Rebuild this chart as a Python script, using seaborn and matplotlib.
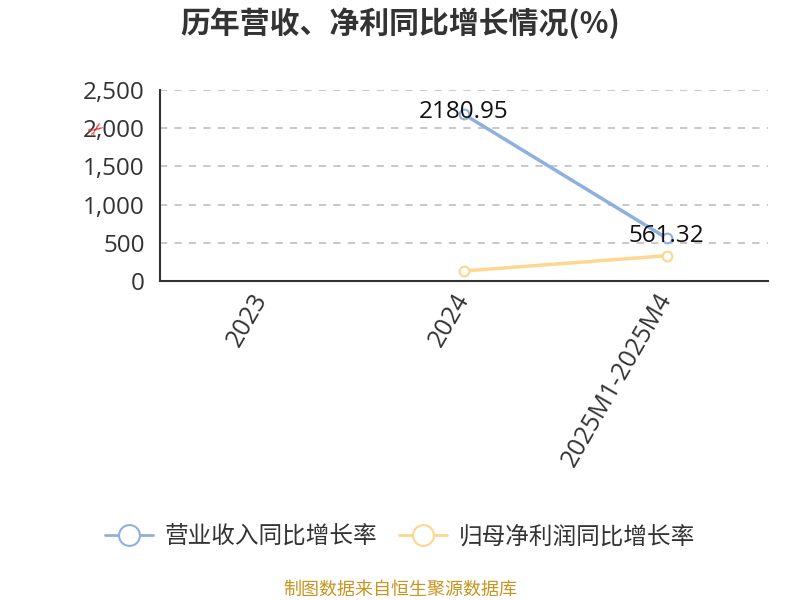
import matplotlib
matplotlib.use("Agg")
import matplotlib.pyplot as plt
from matplotlib.ticker import FuncFormatter, FixedLocator
from matplotlib.lines import Line2D
import seaborn as sns
import pandas as pd
import numpy as np

# 数据
periods = ["2023", "2024", "2025M1-2025M4"]
revenue_growth = [np.nan, 2180.95, 561.32]      # 营业收入同比增长率
profit_growth = [np.nan, 131.0, 331.0]          # 归母净利润同比增长率
series_names = ["营业收入同比增长率", "归母净利润同比增长率"]
labelled = [None, "2180.95", "561.32"]

sns.set_theme(style="white")
plt.rcParams["font.family"] = ["Noto Sans CJK SC", "DejaVu Sans"]

blue = "#8eb0de"
orange = "#fdd690"
latin = ["Open Sans", "DejaVu Sans"]

df = pd.DataFrame({
    "pos": list(range(len(periods))) * 2,
    "value": revenue_growth + profit_growth,
    "series": [series_names[0]] * 3 + [series_names[1]] * 3,
})

fig = plt.figure(figsize=(8, 6), dpi=100)
ax = fig.add_axes([0.2, 0.5317, 0.76, 0.3183])

sns.lineplot(data=df, x="pos", y="value", hue="series",
             palette=[blue, orange], linewidth=2.5, marker="o",
             markersize=7, markerfacecolor="white", markeredgewidth=1.5,
             legend=False, ax=ax, zorder=3)
for ln, c in zip(ax.lines, [blue, orange]):
    ln.set_markeredgecolor(c)

# 数值标签
for i, txt in enumerate(labelled):
    if txt is not None:
        ax.text(i, revenue_growth[i] + 30, txt, ha="center", va="center",
                fontsize=17.5, color="#111111", zorder=5, family=latin)

ax.set_xlim(-0.5, len(periods) - 0.5)
ax.set_ylim(0, 2500)
ax.set_yticks(np.arange(0, 2501, 500))
ax.yaxis.set_major_formatter(FuncFormatter(lambda v, p: f"{int(v):,}"))
ax.xaxis.set_major_locator(FixedLocator(np.arange(-0.5, len(periods), 1.0)))
ax.xaxis.set_major_formatter(FuncFormatter(lambda v, p: ""))
ax.xaxis.set_minor_locator(FixedLocator(range(len(periods))))
ax.set_xticklabels(periods, minor=True)
ax.tick_params(axis="x", which="major", length=8, width=1.3, color="#333333", direction="out")
ax.tick_params(axis="x", which="minor", length=0, labelsize=18, labelcolor="#333333",
               labelrotation=60, pad=10)
ax.tick_params(axis="y", length=8, width=1.3, color="#333333", direction="out",
               labelsize=17.5, labelcolor="#333333", pad=3)
for lbl in ax.get_xticklabels(minor=True):
    lbl.set_ha("right")
    lbl.set_va("center")
    lbl.set_rotation_mode("anchor")
    lbl.set_family(latin)
for lbl in ax.get_yticklabels():
    lbl.set_family(latin)

ax.set_xlabel("")
ax.set_ylabel("")
for s in ["top", "right"]:
    ax.spines[s].set_visible(False)
for s in ["left", "bottom"]:
    ax.spines[s].set_color("#333333")
    ax.spines[s].set_linewidth(1.5)
ax.grid(False)
for v in range(500, 2501, 500):
    ax.axhline(v, color="#c4c4c4", linestyle=(0, (4, 4)), linewidth=1.3, zorder=1)

fig.text(0.5, 0.962, "历年营收、净利同比增长情况(%)", ha="center", va="center",
         fontsize=21.5, fontweight="bold", color="#333333")

fig.text(0.12, 0.783, "✂", ha="center", va="center", fontsize=14,
         color="#e03030", rotation=35, family=["DejaVu Sans"])

handles = [Line2D([0], [0], color=c, linewidth=2, marker="o", markersize=15,
                  markerfacecolor="white", markeredgewidth=1.5, markeredgecolor=c)
           for c in [blue, orange]]
fig.legend(handles, series_names, loc="center", bbox_to_anchor=(0.5, 0.105),
           ncol=2, frameon=False, fontsize=17, handlelength=2.0,
           columnspacing=0.95, handletextpad=0.5, labelcolor="#333333")

fig.text(0.5, 0.017, "制图数据来自恒生聚源数据库", ha="center", va="center",
         fontsize=13, color="#c8941e")

fig.savefig("out.png", dpi=100)
